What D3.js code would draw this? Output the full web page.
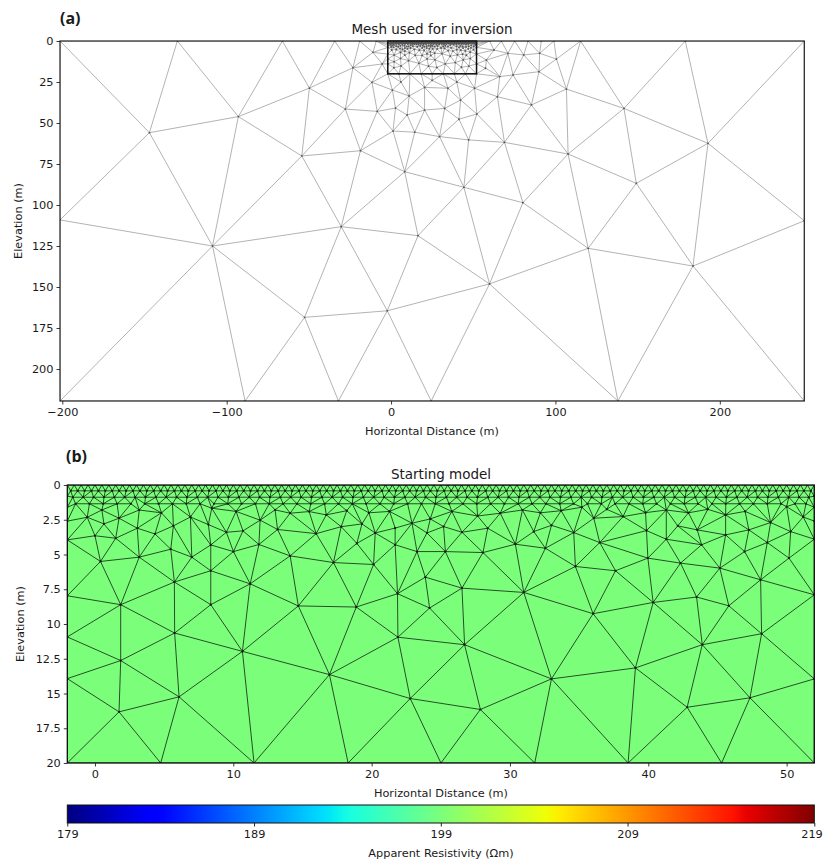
<!DOCTYPE html>
<html><head><meta charset="utf-8">
<script src="https://cdn.jsdelivr.net/npm/d3@7"></script>
<style>
body{margin:0;background:#fff;}
svg text{font-family:"DejaVu Sans",sans-serif;fill:#1a1a1a;}
</style></head><body>
<svg id="c" width="823" height="860"></svg>
<script>
// ---------------- DATA ----------------
// Panel (a): outer (coarse) mesh nodes [x, depth]
const outerNodes = [
[-201.4,0],[-130,0],[-66.1,0],[-34.3,0],[-19.1,0],[-9,0],
[60,0],[67.1,0],[75.2,0],[83.3,0],[91.4,0],[99.1,0],[115.3,0],[179,0],[251.4,0],
[-201.4,109.1],[251.4,109.6],
[-201.4,219.5],[-88.8,219.5],[-32,219.5],[24.4,219.5],[138,219.5],[251.4,219.5],
[-147,55.9],[-92.9,46.1],[-49.7,28.7],[-54.3,70.1],[-27.8,41.5],[-18.6,66.9],[-23.2,16.3],[-11.6,25.2],[-8.4,42.9],[1.2,54.9],[8.3,79.7],[0.8,29.9],[11,33.5],[2.7,40.9],[9.8,45.1],[14.4,55.6],[-11,6.9],[-5.4,14],
[-108.6,125],[-30.3,113.2],[16.4,118.7],[-52.6,168.5],[-2.3,164.5],
[59.9,148.1],[119.9,126.4],[183.7,137.2],[80.2,98.6],
[106.7,29.3],[141.7,41.1],[192.8,62.4],[107.7,68.9],[149.2,86.8],[69,61.8],[44.3,89.2],[29.5,58.3],[85.4,39],[100.6,11],[90.4,7.5],[90,18.7],[74.2,20.7],[64.7,34],[52.2,44.5],[47.2,60.3],[42.3,36],[50.8,28.8],[34.6,28.8],[20.4,28.3],[20.4,42.1],[32.6,41.1],[41.3,47.7],[57.5,16.6],[62.6,5.5],[71.1,7.5],[80.7,8.5],[58,11.6],[66.1,21.7],
[6,25],[25,24],[40,25]
];

// Inner (parameter) mesh: boundary nodes
const innerBoundary = [
[-2,0.8],[-2,1.6],[-2,2.6],[-2,3.95],[-2,7.97],[-2,10.93],[-2,13.93],[-2,20],
[52,0.8],[52,1.6],[52,2.6],[52,3.9],[52,7.9],[52,13.95],[52,20],
[4.75,20],[11.5,20],[18.3,20],[25.01,20],[31.79,20],[38.54,20],[45.3,20]
];
// near-surface rows (x positions) and their depths
const row0X = [-2,-1.5,-1,-0.5,0,0.5,1,1.5,2,2.5,3,3.5,4,4.5,5,5.5,6,6.5,7,7.5,8,8.5,9,9.5,10,10.5,11,11.5,12,12.5,13,13.5,14,14.5,15,15.5,16,16.5,17,17.5,18,18.5,19,19.5,20,20.5,21,21.5,22,22.5,23,23.5,24,24.5,25,25.5,26,26.5,27,27.5,28,28.5,29,29.5,30,30.5,31,31.5,32,32.5,33,33.5,34,34.5,35,35.5,36,36.5,37,37.5,38,38.5,39,39.5,40,40.5,41,41.5,42,42.5,43,43.5,44,44.5,45,45.5,46,46.5,47,47.5,48,48.5,49,49.5,50,50.5,51,51.5,52];
const row1X = [-1.75,-1.25,-0.75,-0.25,0.25,0.75,1.25,1.75,2.25,2.75,3.25,3.75,4.25,4.75,5.25,5.75,6.25,6.75,7.25,7.75,8.25,8.75,9.25,9.75,10.25,10.75,11.25,11.75,12.25,12.75,13.25,13.75,14.25,14.75,15.25,15.75,16.25,16.75,17.25,17.75,18.25,18.75,19.25,19.75,20.25,20.75,21.25,21.75,22.25,22.75,23.25,23.75,24.25,24.75,25.25,25.75,26.25,26.75,27.25,27.75,28.25,28.75,29.25,29.75,30.25,30.75,31.25,31.75,32.25,32.75,33.25,33.75,34.25,34.75,35.25,35.75,36.25,36.75,37.25,37.75,38.25,38.75,39.25,39.75,40.25,40.75,41.25,41.75,42.25,42.75,43.25,43.75,44.25,44.75,45.25,45.75,46.25,46.75,47.25,47.75,48.25,48.75,49.25,49.75,50.25,50.75,51.25,51.75];
const row2X = [-1.6,-0.85,-0.1,0.65,1.4,2.15,2.9,3.65,4.4,5.15,5.9,6.65,7.4,8.15,8.9,9.65,10.4,11.15,11.9,12.65,13.4,14.15,14.9,15.65,16.4,17.15,17.9,18.65,19.4,20.15,20.9,21.65,22.4,23.15,23.9,24.65,25.4,26.15,26.9,27.65,28.4,29.15,29.9,30.65,31.4,32.15,32.9,33.65,34.4,35.15,35.9,36.65,37.4,38.15,38.9,39.65,40.4,41.15,41.9,42.65,43.4,44.15,44.9,45.65,46.4,47.15,47.9,48.65,49.4,50.15,50.9,51.6];
const row3X = [-1.4,-0.4,0.6,1.6,2.6,3.6,4.6,5.6,6.6,7.6,8.6,9.6,10.6,11.6,12.6,13.6,14.6,15.6,16.6,17.6,18.6,19.6,20.6,21.6,22.6,23.6,24.6,25.6,26.6,27.6,28.6,29.6,30.6,31.6,32.6,33.6,34.6,35.6,36.6,37.6,38.6,39.6,40.6,41.6,42.6,43.6,44.6,45.6,46.6,47.6,48.6,49.6,50.6,51.4];
const rowDepths = [0, 0.42, 0.88, 1.35];

// mid-depth nodes (≈1.6–5 m)
const midNodes = [
[-0.56,2.32],[0.65,2.8],[1.74,2.39],[3.06,3.11],[4.34,3.52],[5.67,2.94],[6.9,2.3],[8.2,2.85],[9.5,3.4],[10.7,3.3],[11.94,2.53],[13.2,3.2],[0,3.65],[1.5,3.83],[5.48,4.62],[7.0,5.19],[8.37,4.31],[10.01,4.79],[11.85,4.28],[14.11,5.1],[15.99,3.5],[17.8,3.0],[19.3,2.8],[18.93,4.2],[20.26,3.45],[21.7,4.3],[21.7,3.1],
[22.92,2.75],[23.28,4.79],[24.0,3.45],[25.2,2.99],[25.33,4.79],[26.53,3.4],[27.66,2.23],[28.39,3.11],[28.05,4.86],[29.3,2.03],[30.39,4.26],[31.72,3.35],[32.56,4.55],[33,2.9],[34.61,3.42],[36.49,4.14],[36.06,2.39],[38.18,2.27],[39.8,1.99],[39.87,3.28],[41.3,3.9],[42.13,2.94],[43.54,3.23],[43.85,4.3],[45.59,3.59],[45.59,2.15],[46.96,4.79],[47.27,3.23],[48.6,4.14],[48.84,2.7],[50.29,3.35],[50,1.56],[35.2,1.6],[14.11,2.03],[15.48,1.91],[16.72,2.15],[13.02,1.79],[8.44,1.67],[24.24,2.44],
[3.2,1.8],[4.8,2.0],[10.2,1.9],[18.2,1.85],[19.8,2.0],[21.3,1.9],[25.8,1.9],[30.9,1.8],[32.2,2.0],[33.7,1.85],[37.0,1.75],[41.3,1.8],[42.9,2.0],[44.3,1.75],[47.0,1.9],[51.2,2.3],[0.5,1.8]
];
// deep nodes (> 5 m)
const deepNodes = [
[0.4,5.5],[3.2,5.19],[1.86,8.61],[5.74,6.98],[8.37,6.17],[8.37,8.61],[11.22,7.11],[14.7,8.7],[5.76,10.65],[1.86,12.63],[10.66,11.97],[6.08,15.24],[1.74,16.32],[16.95,13.64],[21.9,10.95],[22.79,15.36],[26.72,11.49],[27.86,16.15],[33,13.95],[39.07,13.16],[43.9,11.49],[48.19,10.7],[42.81,15.99],[47.35,15.31],
[17.24,5.58],[20.14,5.72],[18.89,8.78],[21.87,7.82],[23.88,6.63],[26.53,7.42],[24.19,8.85],[31,7.73],
[34.73,5.86],[37.63,6.17],[39.97,5.26],[42.33,5.62],[45.17,5.98],[48.12,6.82],[50.17,5.26],[40.35,8.45],[43.49,8.06],[45.82,8.69],[36.01,9.26]
];

const startModelValue = 199;            // Ωm, homogeneous starting model
const cbDomain = [179, 219];
const cbTicks = [179, 189, 199, 209, 219];

const aXTicks = [-200, -100, 0, 100, 200];
const aYTicks = [0, 25, 50, 75, 100, 125, 150, 175, 200];
const bXTicks = [0, 10, 20, 30, 40, 50];
const bYTicks = [0, 2.5, 5, 7.5, 10, 12.5, 15, 17.5, 20];
const bYTickLabels = ["0", "2.5", "5", "7.5", "10", "12.5", "15", "17.5", "20"];

// ---------------- HELPERS ----------------
function lerpSeg(t, segs){
  for (let i = 1; i < segs.length; i++){
    if (t <= segs[i][0]){
      const [t0,v0] = segs[i-1], [t1,v1] = segs[i];
      return v0 + (v1 - v0) * (t - t0) / (t1 - t0);
    }
  }
  return segs[segs.length-1][1];
}
function jet(t){
  const r = lerpSeg(t, [[0,0],[0.35,0],[0.66,1],[0.89,1],[1,0.5]]);
  const g = lerpSeg(t, [[0,0],[0.125,0],[0.375,1],[0.64,1],[0.91,0],[1,0]]);
  const b = lerpSeg(t, [[0,0.5],[0.11,1],[0.34,1],[0.65,0],[1,0]]);
  return d3.rgb(r*255, g*255, b*255).formatHex();
}
const innerNodes = [].concat(
  row0X.map(x => [x, rowDepths[0]]),
  row1X.map(x => [x, rowDepths[1]]),
  row2X.map(x => [x, rowDepths[2]]),
  row3X.map(x => [x, rowDepths[3]]),
  innerBoundary, midNodes, deepNodes
);

const svg = d3.select("#c");
const FS = "11.3px";

function axes(g, xs, ys, xt, yt, ytl){
  const xa = g.append("g").attr("transform", `translate(0,${ys.range()[1]})`)
    .call(d3.axisBottom(xs).tickValues(xt).tickSize(3.5).tickPadding(3));
  const ya = g.append("g").attr("transform", `translate(${xs.range()[0]},0)`)
    .call(d3.axisLeft(ys).tickValues(yt).tickSize(3.5).tickPadding(3)
      .tickFormat(ytl ? ((d,i) => ytl[i]) : null));
  [xa, ya].forEach(a => {
    a.select(".domain").remove();
    a.selectAll("line").attr("stroke", "#222").attr("stroke-width", 0.9);
    a.selectAll("text").style("font-size", FS).attr("fill", "#1a1a1a");
  });
}

function mesh(g, pts, xs, ys, o){
  const del = d3.Delaunay.from(pts, d => xs(d[0]), d => ys(d[1]));
  if (o.fill){
    const n = del.triangles.length / 3;
    for (let i = 0; i < n; i++){
      g.append("path").attr("d", del.renderTriangle(i)).attr("fill", o.fill)
        .attr("stroke", o.fill).attr("stroke-width", 0.5);
    }
  }
  g.append("path").attr("d", del.render()).attr("fill", "none")
    .attr("stroke", o.stroke).attr("stroke-width", o.sw);
  g.append("g").selectAll("circle").data(pts).join("circle")
    .attr("cx", d => xs(d[0])).attr("cy", d => ys(d[1])).attr("r", o.r).attr("fill", o.dot);
}

// ---------------- PANEL (a) ----------------
const xa = d3.scaleLinear().domain([-201.4, 251.4]).range([60, 804.3]);
const ya = d3.scaleLinear().domain([0, 219.5]).range([41, 401]);
svg.append("clipPath").attr("id", "clipA").append("rect")
  .attr("x", 60).attr("y", 41).attr("width", 744.3).attr("height", 360);
const gA = svg.append("g").attr("clip-path", "url(#clipA)");
mesh(gA, outerNodes.concat(innerNodes), xa, ya, {stroke: "#9a9a9a", sw: 0.75, r: 0.9, dot: "#555"});
svg.append("rect").attr("x", xa(-2)).attr("y", ya(0)).attr("width", xa(52) - xa(-2)).attr("height", ya(20) - ya(0))
  .attr("fill", "none").attr("stroke", "#111").attr("stroke-width", 1.5);
svg.append("rect").attr("x", 60).attr("y", 41).attr("width", 744.3).attr("height", 360)
  .attr("fill", "none").attr("stroke", "#222").attr("stroke-width", 1.2);
axes(svg.append("g"), xa, ya, aXTicks, aYTicks);
svg.append("text").attr("x", 432).attr("y", 34).attr("text-anchor", "middle").style("font-size", "13.5px").text("Mesh used for inversion");
svg.append("text").attr("x", 432).attr("y", 435).attr("text-anchor", "middle").style("font-size", FS).text("Horizontal Distance (m)");
svg.append("text").attr("transform", "translate(22,221) rotate(-90)").attr("text-anchor", "middle").style("font-size", FS).text("Elevation (m)");
svg.append("text").attr("x", 60).attr("y", 24).style("font-family", "'Open Sans',sans-serif").style("font-weight", "bold").style("font-size", "16px").attr("fill", "#000").text("(a)");

// ---------------- PANEL (b) ----------------
const xb = d3.scaleLinear().domain([-2, 52]).range([67.3, 814.3]);
const yb = d3.scaleLinear().domain([0, 20]).range([485, 763]);
svg.append("clipPath").attr("id", "clipB").append("rect")
  .attr("x", 67.3).attr("y", 485).attr("width", 747).attr("height", 278);
const gB = svg.append("g").attr("clip-path", "url(#clipB)");
const cval = jet((startModelValue - cbDomain[0]) / (cbDomain[1] - cbDomain[0]));
mesh(gB, innerNodes, xb, yb, {fill: cval, stroke: "#1c3a1c", sw: 0.9, r: 1.1, dot: "#0a1a0a"});
svg.append("rect").attr("x", 67.3).attr("y", 485).attr("width", 747).attr("height", 278)
  .attr("fill", "none").attr("stroke", "#111").attr("stroke-width", 1.3);
axes(svg.append("g"), xb, yb, bXTicks, bYTicks, bYTickLabels);
svg.append("text").attr("x", 441).attr("y", 479).attr("text-anchor", "middle").style("font-size", "13.5px").text("Starting model");
svg.append("text").attr("x", 441).attr("y", 797).attr("text-anchor", "middle").style("font-size", FS).text("Horizontal Distance (m)");
svg.append("text").attr("transform", "translate(24,624) rotate(-90)").attr("text-anchor", "middle").style("font-size", FS).text("Elevation (m)");
svg.append("text").attr("x", 66).attr("y", 462).style("font-family", "'Open Sans',sans-serif").style("font-weight", "bold").style("font-size", "16px").attr("fill", "#000").text("(b)");

// ---------------- COLORBAR ----------------
const cbx = d3.scaleLinear().domain(cbDomain).range([67.3, 814.3]);
const grad = svg.append("defs").append("linearGradient").attr("id", "jetG");
d3.range(0, 1.0001, 0.01).forEach(t => grad.append("stop").attr("offset", t).attr("stop-color", jet(t)));
const cbY = 805, cbH = 18;
svg.append("rect").attr("x", 67.3).attr("y", cbY).attr("width", 747).attr("height", cbH)
  .attr("fill", "url(#jetG)").attr("stroke", "#111").attr("stroke-width", 1);
const cba = svg.append("g").attr("transform", `translate(0,${cbY + cbH})`)
  .call(d3.axisBottom(cbx).tickValues(cbTicks).tickSize(3.5).tickPadding(3).tickFormat(d3.format("d")));
cba.select(".domain").remove();
cba.selectAll("line").attr("stroke", "#222");
cba.selectAll("text").style("font-size", FS).attr("fill", "#1a1a1a");
cba.selectAll("text").filter(d => d === cbDomain[1]).attr("text-anchor", "end").attr("x", 8);
svg.append("text").attr("x", 441).attr("y", 857).attr("text-anchor", "middle").style("font-size", FS).text("Apparent Resistivity (Ωm)");
</script>
</body></html>
